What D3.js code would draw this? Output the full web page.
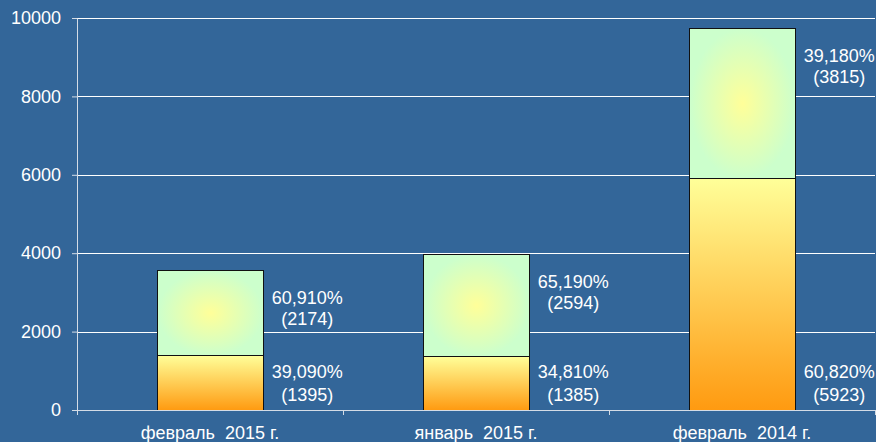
<!DOCTYPE html>
<html>
<head>
<meta charset="utf-8">
<script src="https://cdn.jsdelivr.net/npm/d3@7"></script>
<style>
  html, body { margin: 0; padding: 0; background: #336699; }
  svg { display: block; }
  text { font-family: "Liberation Sans", Arial, sans-serif; fill: #ffffff; }
</style>
</head>
<body>
<div id="chart"></div>
<script>
// Categories and the two stacked series (counts and their shares)
const categories = ["февраль  2015 г.", "январь  2015 г.", "февраль  2014 г."];
const lowerValues = [1395, 1385, 5923];
const upperValues = [2174, 2594, 3815];
const lowerPercents = [39.09, 34.81, 60.82];
const upperPercents = [60.91, 65.19, 39.18];
const yTicks = [0, 2000, 4000, 6000, 8000, 10000];

const W = 876, H = 442;
const margin = { top: 18, right: 1, bottom: 32, left: 77 };

const svg = d3.select("#chart").append("svg")
  .attr("width", W)
  .attr("height", H);

svg.append("rect").attr("width", W).attr("height", H).attr("fill", "#336699");

// gradients
const defs = svg.append("defs");
const lin = defs.append("linearGradient")
  .attr("id", "lowerGrad")
  .attr("x1", 0).attr("y1", 0).attr("x2", 0).attr("y2", 1);
lin.append("stop").attr("offset", "0%").attr("stop-color", "#ffff99");
lin.append("stop").attr("offset", "100%").attr("stop-color", "#ff9a10");

const rad = defs.append("radialGradient")
  .attr("id", "upperGrad")
  .attr("cx", 0.5).attr("cy", 0.5).attr("r", 0.5);
rad.append("stop").attr("offset", "0%").attr("stop-color", "#ffff99");
rad.append("stop").attr("offset", "100%").attr("stop-color", "#ccffcc");

const x = d3.scaleBand()
  .domain(categories)
  .range([margin.left, W - margin.right])
  .padding(0);

const y = d3.scaleLinear()
  .domain([0, 10000])
  .range([H - margin.bottom, margin.top]);

// grid lines
svg.append("g")
  .selectAll("line")
  .data(yTicks.filter(t => t > 0))
  .enter()
  .append("line")
  .attr("x1", margin.left)
  .attr("x2", W - margin.right)
  .attr("y1", d => Math.round(y(d)) + 0.5)
  .attr("y2", d => Math.round(y(d)) + 0.5)
  .attr("stroke", "#ffffff")
  .attr("stroke-width", 1);

// stacked bars
const barW = x.bandwidth() * 0.4;
const barX = c => x(c) + (x.bandwidth() - barW) / 2;

const bars = svg.append("g");
categories.forEach((c, i) => {
  const total = lowerValues[i] + upperValues[i];
  bars.append("rect")
    .attr("x", Math.round(barX(c)) + 0.5)
    .attr("y", Math.round(y(lowerValues[i])) + 0.5)
    .attr("width", Math.round(barW))
    .attr("height", Math.round(y(0)) - Math.round(y(lowerValues[i])))
    .attr("fill", "url(#lowerGrad)")
    .attr("stroke", "#111111");
  bars.append("rect")
    .attr("x", Math.round(barX(c)) + 0.5)
    .attr("y", Math.round(y(total)) + 0.5)
    .attr("width", Math.round(barW))
    .attr("height", Math.round(y(lowerValues[i])) - Math.round(y(total)))
    .attr("fill", "url(#upperGrad)")
    .attr("stroke", "#111111");
});

// y axis
const yAxis = svg.append("g")
  .attr("transform", `translate(${margin.left},0)`)
  .call(d3.axisLeft(y).tickValues(yTicks).tickFormat(d3.format("d"))
    .tickSizeInner(5).tickSizeOuter(0).tickPadding(11));
yAxis.select(".domain").attr("stroke", "#d4dce6");
yAxis.selectAll(".tick line").attr("stroke", "#d4dce6");
yAxis.selectAll("text").style("font-size", "18px").attr("fill", "#ffffff");

// x axis: boundary ticks
const xEdges = d3.scaleLinear().domain([0, categories.length]).range([margin.left, W - margin.right]);
const xTickAxis = svg.append("g")
  .attr("transform", `translate(0,${H - margin.bottom})`)
  .call(d3.axisBottom(xEdges).ticks(categories.length).tickFormat("").tickSizeInner(5).tickSizeOuter(0));
xTickAxis.select(".domain").attr("stroke", "#d4dce6");
xTickAxis.selectAll(".tick line").attr("stroke", "#d4dce6");

// x axis: category labels
const xAxis = svg.append("g")
  .attr("transform", `translate(0,${H - margin.bottom})`)
  .call(d3.axisBottom(x).tickSize(0).tickPadding(16));
xAxis.select(".domain").remove();
xAxis.selectAll("text")
  .style("font-size", "18px")
  .style("white-space", "pre")
  .attr("fill", "#ffffff");

// data labels beside the bars
const fmtPct = v => v.toFixed(3).replace(".", ",") + "%";
const labels = svg.append("g").attr("text-anchor", "middle").style("font-size", "18px");
categories.forEach((c, i) => {
  const lx = barX(c) + barW + 44;
  const total = lowerValues[i] + upperValues[i];
  const upTop = y(total) + 34;
  labels.append("text").attr("x", lx).attr("y", upTop).text(fmtPct(upperPercents[i]));
  labels.append("text").attr("x", lx).attr("y", upTop + 21).text(`(${upperValues[i]})`);
  const lowBase = y(0) - 9;
  labels.append("text").attr("x", lx).attr("y", lowBase - 23).text(fmtPct(lowerPercents[i]));
  labels.append("text").attr("x", lx).attr("y", lowBase).text(`(${lowerValues[i]})`);
});
</script>
</body>
</html>
